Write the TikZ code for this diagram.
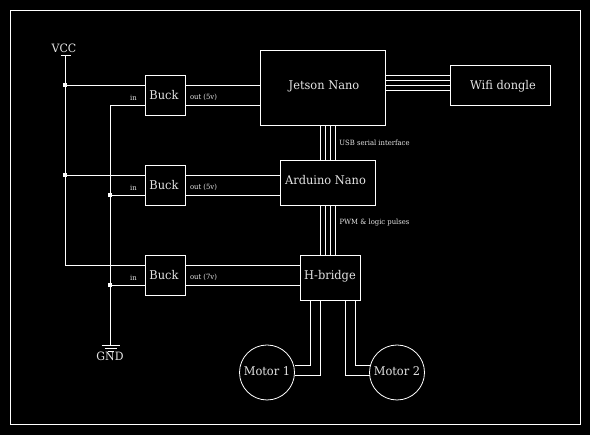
\documentclass[tikz,border=0pt]{standalone}
\usepackage{fontspec}
\setmainfont[FakeStretch=0.95]{DejaVu Serif}
\newcommand{\blocktext}[3]{\raisebox{#2pt}[0pt][0pt]{\makebox[0pt]{\hspace*{#1pt}\hspace*{#1pt}#3}}}
\tikzset{
  x=1pt,y=-1pt,
  wire/.style={draw=white,line width=1pt},
  blockbox/.style={draw=white,line width=1pt,fill=black,text=white!90!black,inner sep=0pt,outer sep=0pt,font=\fontsize{12}{14}\selectfont,anchor=north west},
  motorbox/.style={circle,draw=white,line width=0.8pt,fill=black,text=white!90!black,inner sep=0pt,outer sep=0pt,minimum size=55pt,font=\fontsize{12}{14}\selectfont},
  jointdot/.style={rectangle,fill=white,inner sep=0pt,outer sep=0pt,minimum size=4pt},
  smalllabel/.style={text=white!90!black,inner sep=0pt,font=\fontsize{7.2}{9}\selectfont},
  biglabel/.style={text=white!90!black,inner sep=0pt,font=\fontsize{11.5}{14}\selectfont}
}
\begin{document}
\begin{tikzpicture}
\fill[black] (0,0) rectangle (590,435);
\useasboundingbox (0,0) rectangle (590,435);
\node[draw=white,line width=1pt,outer sep=0pt,minimum width=570pt,minimum height=414pt,inner sep=0pt,anchor=north west] (frame) at (10.5,10.5) {};
% blocks
\node[blockbox,minimum width=125pt,minimum height=75pt] (jetson) at (260.5,50.5) {\blocktext{1}{-2}{Jetson Nano}};
\node[blockbox,minimum width=100pt,minimum height=40pt] (wifi) at (450.5,65.5) {\blocktext{2.5}{-4.5}{Wifi dongle}};
\node[blockbox,minimum width=95pt,minimum height=45pt] (arduino) at (280.5,160.5) {\blocktext{-2.5}{-2}{Arduino Nano}};
\node[blockbox,minimum width=60pt,minimum height=45pt] (hbridge) at (300.5,255.5) {\blocktext{-0.5}{-2}{H-bridge}};
\node[blockbox,minimum width=40pt,minimum height=40pt] (buckA) at (145.5,75.5) {\blocktext{-1.5}{-4.5}{Buck}};
\node[blockbox,minimum width=40pt,minimum height=40pt] (buckB) at (145.5,165.5) {\blocktext{-1.5}{-4.5}{Buck}};
\node[blockbox,minimum width=40pt,minimum height=40pt] (buckC) at (145.5,255.5) {\blocktext{-1.5}{-4.5}{Buck}};
\node[motorbox] (motorA) at (267,372.5) {\blocktext{0}{-3.5}{Motor 1}};
\node[motorbox] (motorB) at (397,372.5) {\blocktext{0}{-3.5}{Motor 2}};
% rails
\coordinate (vcctop) at (65.5,55.5);
\coordinate (gndbot) at (110.5,345.5);
\coordinate (vccA) at ([yshift=10pt]vcctop |- buckA.west);
\coordinate (vccB) at ([yshift=10pt]vcctop |- buckB.west);
\coordinate (vccC) at ([yshift=10pt]vcctop |- buckC.west);
\coordinate (gndA) at ([yshift=-10pt]gndbot |- buckA.west);
\coordinate (gndB) at ([yshift=-10pt]gndbot |- buckB.west);
\coordinate (gndC) at ([yshift=-10pt]gndbot |- buckC.west);
\draw[wire] ([xshift=-5pt]vcctop) -- ([xshift=5pt]vcctop);
\draw[wire] (vcctop) -- (vccC) -- ([yshift=10pt]buckC.west);
\draw[wire] (vccA) -- ([yshift=10pt]buckA.west);
\draw[wire] (vccB) -- ([yshift=10pt]buckB.west);
\draw[wire] ([yshift=-10pt]buckA.west) -- (gndA) -- (gndbot);
\draw[wire] (gndB) -- ([yshift=-10pt]buckB.west);
\draw[wire] (gndC) -- ([yshift=-10pt]buckC.west);
\draw[wire] ([xshift=-9pt]gndbot) -- ([xshift=9pt]gndbot);
\draw[wire] ([xshift=-6pt,yshift=-3pt]gndbot) -- ([xshift=6pt,yshift=-3pt]gndbot);
\draw[wire] ([xshift=-3pt,yshift=-6pt]gndbot) -- ([xshift=3pt,yshift=-6pt]gndbot);
\node[jointdot] (dotA) at ([xshift=-0.5pt]vccA) {};
\node[jointdot] (dotB) at ([xshift=-0.5pt]vccB) {};
\node[jointdot] (dotC) at ([xshift=-0.5pt]gndB) {};
\node[jointdot] (dotD) at ([xshift=-0.5pt]gndC) {};
% buck outputs
\foreach \b/\t in {buckA/jetson,buckB/arduino,buckC/hbridge}{
  \draw[wire] ([yshift=10pt]\b.east) -- ([yshift=10pt]\b.east -| \t.west);
  \draw[wire] ([yshift=-10pt]\b.east) -- ([yshift=-10pt]\b.east -| \t.west);
}
% wifi bus
\foreach \s in {-5,0,5,10}{
  \draw[wire] ([yshift=\s pt]wifi.west -| jetson.east) -- ([yshift=\s pt]wifi.west);
}
% vertical buses
\coordinate (busx) at (328,0);
\foreach \s in {-7.5,-2.5,2.5,7.5}{
  \draw[wire] ([xshift=\s pt]busx |- jetson.south) -- ([xshift=\s pt]busx |- arduino.north);
  \draw[wire] ([xshift=\s pt]busx |- arduino.south) -- ([xshift=\s pt]busx |- hbridge.north);
}
% motors
\draw[wire] ([xshift=-20pt]hbridge.south) |- ([yshift=7pt]motorA.east);
\draw[wire] ([xshift=-10pt]hbridge.south) |- ([yshift=-3pt]motorA.east);
\draw[wire] ([xshift=15pt]hbridge.south) |- ([yshift=-3pt]motorB.west);
\draw[wire] ([xshift=25pt]hbridge.south) |- ([yshift=7pt]motorB.west);
% labels
\node[biglabel] (vcc) at (64,48.5) {VCC};
\node[biglabel] (gnd) at (110,356.5) {GND};
\node[smalllabel] (inA) at (133.5,97.5) {in};
\node[smalllabel] (inB) at (133.5,187.5) {in};
\node[smalllabel] (inC) at (133.5,277.5) {in};
\node[smalllabel] (outA) at (203.5,97.5) {out (5v)};
\node[smalllabel] (outB) at (203.5,187.5) {out (5v)};
\node[smalllabel] (outC) at (203.5,277.5) {out (7v)};
\node[smalllabel] (usb) at (374.5,142.5) {USB serial interface};
\node[smalllabel] (pwm) at (374.5,223) {PWM \& logic pulses};
\end{tikzpicture}
\end{document}
